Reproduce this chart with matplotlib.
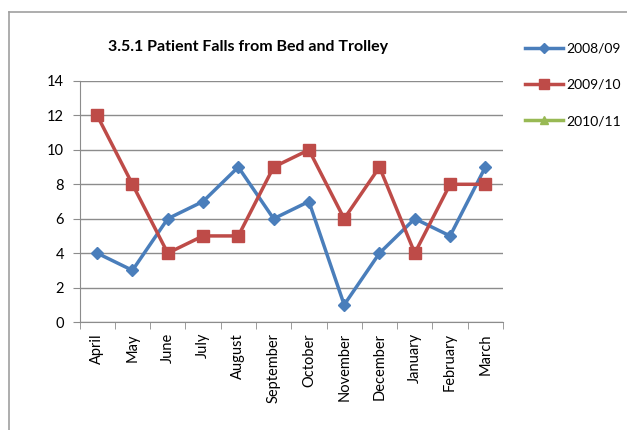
import matplotlib.pyplot as plt
from matplotlib.lines import Line2D
import numpy as np

plt.rcParams['font.family'] = ['Lato', 'DejaVu Sans']

# Data
months = ['April', 'May', 'June', 'July', 'August', 'September', 'October',
          'November', 'December', 'January', 'February', 'March']
falls_0809 = [4, 3, 6, 7, 9, 6, 7, 1, 4, 6, 5, 9]
falls_0910 = [12, 8, 4, 5, 5, 9, 10, 6, 9, 4, 8, 8]
falls_1011 = []

W, H = 627, 430
fig = plt.figure(figsize=(W / 100, H / 100), dpi=100)

# outer chart border (left and top visible, rest runs off the picture)
fig.add_artist(Line2D([9 / W, 9 / W], [0, 1 - 12 / H], color='#a0a0a0', lw=1.2))
fig.add_artist(Line2D([9 / W, 1], [1 - 12 / H, 1 - 12 / H], color='#a0a0a0', lw=1.2))

ax = fig.add_axes([79.5 / W, 1 - 322 / H, (503 - 79.5) / W, (322 - 81) / H])

x = np.arange(len(months))
ax.plot(x, falls_0809, color='#4a7ebb', lw=2.5, marker='D', ms=6.5, label='2008/09')
ax.plot(x, falls_0910, color='#be4b48', lw=2.5, marker='s', ms=8, label='2009/10')
ax.plot(falls_1011, falls_1011, color='#98b954', lw=2.5, marker='^', ms=7, label='2010/11')

ax.set_xlim(-0.5, len(months) - 0.5)
ax.set_ylim(0, 14)
ax.set_yticks(range(0, 15, 2))
ax.yaxis.grid(True, color='#8c8c8c', lw=1)
ax.set_axisbelow(True)

ax.set_xticks(x)
ax.set_xticklabels(months, rotation=90, fontsize=10.5)
ax.set_xticks(np.arange(-0.5, len(months)), minor=True)
ax.tick_params(axis='x', which='major', length=0, pad=8)
ax.tick_params(axis='x', which='minor', length=5, color='#8c8c8c')
ax.tick_params(axis='y', length=5, color='#8c8c8c', labelsize=10.5, pad=6)

for s in ['top', 'right']:
    ax.spines[s].set_visible(False)
for s in ['left', 'bottom']:
    ax.spines[s].set_color('#8c8c8c')

fig.text(248 / W, 1 - 47 / H, '3.5.1 Patient Falls from Bed and Trolley',
         ha='center', va='center', fontsize=11.5, fontweight='bold')

fig.legend(loc='upper left', bbox_to_anchor=(512 / W, 1 - 30 / H), frameon=False,
           fontsize=10, handlelength=2.8, handletextpad=0.2, labelspacing=1.75,
           markerscale=0.85)

fig.savefig('out.png', dpi=100)
